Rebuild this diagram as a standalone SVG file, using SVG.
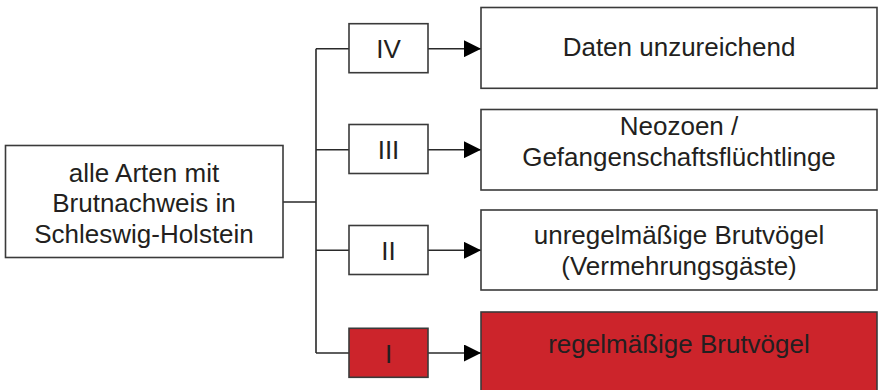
<svg xmlns="http://www.w3.org/2000/svg" width="878" height="390" viewBox="0 0 878 390">
<style>
.box{fill:#fff;stroke:#3a3a3a;stroke-width:1.6}
.red{fill:#cc242b}
.t{font-family:"Liberation Sans",Arial,sans-serif;font-size:26px;fill:#231f20;text-anchor:middle}
.c{fill:none;stroke:#2a2a2a;stroke-width:1.6}
</style>
<defs>
<marker id="ah" markerUnits="userSpaceOnUse" markerWidth="18" markerHeight="17" refX="17" refY="8.5" orient="auto">
<path d="M0,0 L17,8.5 L0,17 Z" fill="#000"/>
</marker>
</defs>
<g id="connectors">
<path class="c" d="M283,202 H316 M316,48.7 V353 M316,48.7 H349 M316,149.7 H349 M316,250.3 H349 M316,353 H349"/>
<path class="c" d="M428,48.7 H481" marker-end="url(#ah)"/>
<path class="c" d="M428,149.7 H481" marker-end="url(#ah)"/>
<path class="c" d="M428,250.3 H481" marker-end="url(#ah)"/>
<path class="c" d="M428,353 H481" marker-end="url(#ah)"/>
</g>
<g id="root">
<rect class="box" x="5.5" y="145.5" width="277.5" height="112"/>
<text class="t" x="144" y="181.5">alle Arten mit</text>
<text class="t" x="144" y="212">Brutnachweis in</text>
<text class="t" x="144" y="242.5">Schleswig-Holstein</text>
</g>
<g id="k4">
<rect class="box" x="349" y="23.7" width="79" height="49"/>
<text class="t" x="388.5" y="58">IV</text>
</g>
<g id="k3">
<rect class="box" x="349" y="124.5" width="79" height="49"/>
<text class="t" x="388.5" y="159">III</text>
</g>
<g id="k2">
<rect class="box" x="349" y="225.5" width="79" height="49"/>
<text class="t" x="388.5" y="260">II</text>
</g>
<g id="k1">
<rect class="box red" x="349" y="328.3" width="79" height="49"/>
<text class="t" x="388.5" y="363">I</text>
</g>
<g id="r4">
<rect class="box" x="481" y="7.5" width="396" height="80.8"/>
<text class="t" x="679" y="56">Daten unzureichend</text>
</g>
<g id="r3">
<rect class="box" x="481" y="109.5" width="396" height="80.5"/>
<text class="t" x="679" y="135">Neozoen /</text>
<text class="t" x="679" y="166">Gefangenschaftsflüchtlinge</text>
</g>
<g id="r2">
<rect class="box" x="481" y="210" width="396" height="80"/>
<text class="t" x="679" y="244">unregelmäßige Brutvögel</text>
<text class="t" x="679" y="275">(Vermehrungsgäste)</text>
</g>
<g id="r1">
<rect class="box red" x="481" y="312" width="396" height="82"/>
<text class="t" x="679" y="353">regelmäßige Brutvögel</text>
</g>
</svg>
